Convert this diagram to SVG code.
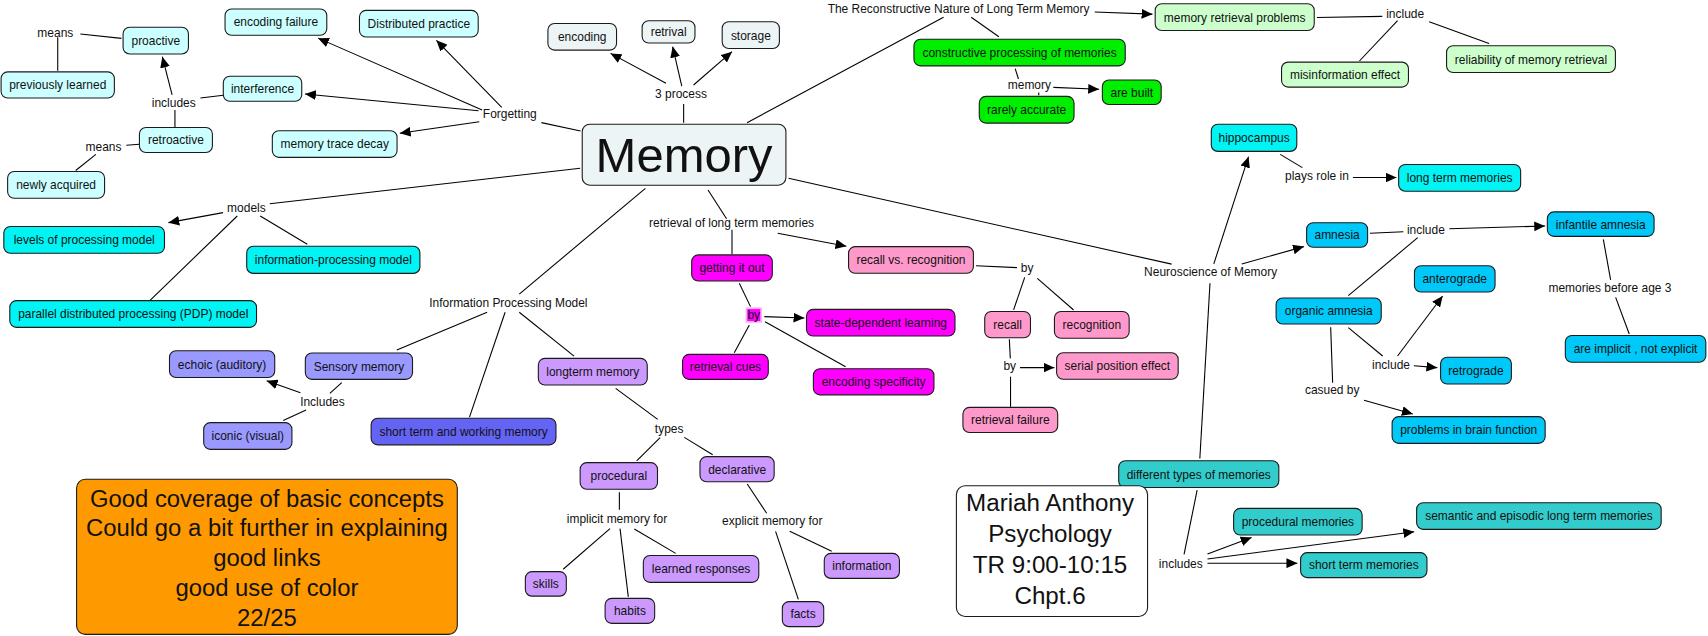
<svg xmlns="http://www.w3.org/2000/svg" width="1708" height="636" viewBox="0 0 1708 636">
<defs>
<marker id="ah" viewBox="0 0 10 9" refX="10" refY="4.5" markerWidth="10" markerHeight="9" orient="auto" markerUnits="userSpaceOnUse">
<path d="M0,0 L10,4.5 L0,9 z" fill="#000"/>
</marker>
<style>
text{font-family:"Liberation Sans",Arial,sans-serif;font-size:11px;fill:#111;text-anchor:middle}
.node rect{stroke:#1a1a1a;stroke-width:1}
.lc{fill:#ccffff}.mem{fill:#edf4f5}.g{fill:#00ee00}.lg{fill:#ccffcc}.cy{fill:#00f4f4}
.sky{fill:#00c8f8}.teal{fill:#33cccc}.peri{fill:#9999ff}.blue{fill:#6464f4}.lav{fill:#cc99ff}
.mag{fill:#ff00ff}.pink{fill:#ff99cc}.org{fill:#ff9900}.wh{fill:#ffffff}
#connectors line{stroke:#000;stroke-width:1}
#connectors line.a{marker-end:url(#ah)}
.big{font-size:21.9px}
.mar{font-size:22.2px}
</style>
</defs>
<rect width="1708" height="636" fill="#ffffff"/>
<g transform="scale(1.08929)">
<g id="connectors">
<line x1="73.8" y1="31.2" x2="111.5" y2="35.2"/>
<line x1="53" y1="34.3" x2="53" y2="65"/>
<line x1="184" y1="90" x2="205" y2="87.5"/>
<line class="a" x1="158" y1="87" x2="149" y2="52"/>
<line x1="160.6" y1="101" x2="160.6" y2="117"/>
<line x1="116" y1="133.4" x2="128" y2="132.4"/>
<line x1="88" y1="141.7" x2="69.5" y2="156.5"/>
<line class="a" x1="442.6" y1="101" x2="292" y2="35"/>
<line class="a" x1="460.6" y1="98.5" x2="400.6" y2="37"/>
<line class="a" x1="439.3" y1="101.6" x2="280" y2="86.3"/>
<line class="a" x1="440" y1="111.7" x2="367" y2="122.4"/>
<line x1="497" y1="112.6" x2="533" y2="120.3"/>
<line x1="627.6" y1="112.6" x2="627.6" y2="95.5"/>
<line class="a" x1="611.4" y1="76.5" x2="560.5" y2="49"/>
<line class="a" x1="625.9" y1="79" x2="617.5" y2="42.8"/>
<line class="a" x1="636.7" y1="78" x2="672" y2="47.4"/>
<line x1="685.8" y1="112.6" x2="866.2" y2="15.9"/>
<line x1="891.6" y1="15.9" x2="917" y2="33.7"/>
<line class="a" x1="1005" y1="11" x2="1058" y2="13"/>
<line x1="932" y1="63" x2="935" y2="72.5"/>
<line class="a" x1="967" y1="80.2" x2="1009" y2="82"/>
<line x1="953.6" y1="85" x2="953.6" y2="87.5"/>
<line x1="1209" y1="16" x2="1269" y2="15"/>
<line x1="1283" y1="19" x2="1248" y2="56"/>
<line x1="1312" y1="20" x2="1367" y2="40"/>
<line x1="1175.3" y1="141.7" x2="1195.6" y2="153.9"/>
<line class="a" x1="1242" y1="163" x2="1282" y2="163"/>
<line x1="723.9" y1="163.7" x2="1075.6" y2="242.5"/>
<line class="a" x1="1114.3" y1="242.3" x2="1146.2" y2="143.8"/>
<line class="a" x1="1140" y1="242.3" x2="1197" y2="226.4"/>
<line x1="1110.8" y1="260" x2="1101.5" y2="421"/>
<line x1="1257.7" y1="214.2" x2="1288.3" y2="212.7"/>
<line class="a" x1="1330.5" y1="210" x2="1418.5" y2="207.5"/>
<line x1="1301.5" y1="218.2" x2="1237.8" y2="271.4"/>
<line x1="1471.9" y1="219.7" x2="1478.6" y2="257"/>
<line x1="1483.2" y1="273" x2="1495.7" y2="306.6"/>
<line x1="1237.8" y1="300.8" x2="1269.3" y2="326.8"/>
<line class="a" x1="1283" y1="326.8" x2="1324.4" y2="271.7"/>
<line class="a" x1="1298" y1="335.7" x2="1319.5" y2="337.5"/>
<line x1="1221.6" y1="300.5" x2="1223.4" y2="351.3"/>
<line class="a" x1="1252.2" y1="367.5" x2="1297" y2="380"/>
<line x1="1099" y1="450" x2="1087" y2="509"/>
<line class="a" x1="1108.5" y1="508.5" x2="1149" y2="493.5"/>
<line class="a" x1="1108.5" y1="513.2" x2="1298.3" y2="488.1"/>
<line class="a" x1="1108.5" y1="517.1" x2="1191" y2="517.1"/>
<line x1="532.6" y1="154.5" x2="247.7" y2="187"/>
<line class="a" x1="204.8" y1="195.2" x2="154.6" y2="204.4"/>
<line x1="238.9" y1="198.3" x2="282.1" y2="224.3"/>
<line x1="217.8" y1="198.3" x2="138" y2="275.5"/>
<line x1="592.5" y1="172.9" x2="476.7" y2="270"/>
<line x1="447.2" y1="286.7" x2="364.3" y2="321.2"/>
<line x1="463.7" y1="286.7" x2="431" y2="383"/>
<line x1="476.7" y1="286.7" x2="527" y2="327"/>
<line x1="313.7" y1="351.3" x2="302.8" y2="361.1"/>
<line class="a" x1="275.8" y1="360.5" x2="244.8" y2="349.5"/>
<line x1="281" y1="376.4" x2="260" y2="386"/>
<line x1="565.2" y1="356.5" x2="603.8" y2="385"/>
<line x1="606" y1="401.8" x2="584.5" y2="423"/>
<line x1="628.2" y1="401.5" x2="654.3" y2="417.4"/>
<line x1="568.6" y1="452" x2="568.6" y2="468"/>
<line x1="560" y1="485.3" x2="517" y2="522.6"/>
<line x1="569.2" y1="485.3" x2="576.8" y2="548"/>
<line x1="582.3" y1="485.6" x2="620.3" y2="508"/>
<line x1="686" y1="444.3" x2="703.8" y2="471.2"/>
<line x1="712" y1="487.8" x2="732.9" y2="550.2"/>
<line x1="725" y1="487.8" x2="763.5" y2="506"/>
<line x1="650" y1="174.4" x2="667" y2="200.8"/>
<line class="a" x1="714" y1="214.2" x2="777" y2="226"/>
<line x1="672" y1="211" x2="672" y2="233.5"/>
<line x1="678.7" y1="260" x2="689" y2="281.5"/>
<line class="a" x1="701.7" y1="290.7" x2="738.5" y2="292"/>
<line x1="687.9" y1="298.4" x2="674.1" y2="323.8"/>
<line x1="702.3" y1="295.3" x2="776.3" y2="336.6"/>
<line x1="896" y1="244" x2="933.6" y2="245.7"/>
<line x1="940.7" y1="254.6" x2="930.5" y2="284.5"/>
<line x1="952.3" y1="255.5" x2="985.6" y2="284.6"/>
<line x1="926.6" y1="311.5" x2="927.5" y2="329"/>
<line class="a" x1="936.4" y1="337.5" x2="968" y2="337.5"/>
<line x1="927.7" y1="345.8" x2="927.7" y2="373.5"/>
</g>

<g id="labels">
<g id="l-means1"><text x="50.8" y="33.7">means</text></g>
<g id="l-includes1"><text x="159.5" y="98.3">includes</text></g>
<g id="l-means2"><text x="95" y="138.6">means</text></g>
<g id="l-forgetting"><text x="468" y="108.7">Forgetting</text></g>
<g id="l-3process"><text x="625.2" y="89.7">3 process</text></g>
<g id="l-reconstructive"><text x="880" y="11.7">The Reconstructive Nature of Long Term Memory</text></g>
<g id="l-memory"><text x="945" y="82">memory</text></g>
<g id="l-include1"><text x="1290" y="16.2">include</text></g>
<g id="l-plays"><text x="1209" y="165.6">plays role in</text></g>
<g id="l-neuro"><text x="1111.4" y="253.4">Neuroscience of Memory</text></g>
<g id="l-include2"><text x="1309" y="215">include</text></g>
<g id="l-before3"><text x="1478" y="267.8">memories before age 3</text></g>
<g id="l-include3"><text x="1277" y="339">include</text></g>
<g id="l-casued"><text x="1223" y="362">casued by</text></g>
<g id="l-includes2"><text x="1084" y="521.1">includes</text></g>
<g id="l-models"><text x="226.2" y="194.3">models</text></g>
<g id="l-ipm"><text x="466.7" y="281.5">Information Processing Model</text></g>
<g id="l-Includes"><text x="296" y="372.7">Includes</text></g>
<g id="l-types"><text x="614.3" y="397.2">types</text></g>
<g id="l-implicit"><text x="566.4" y="479.9">implicit memory for</text></g>
<g id="l-explicit"><text x="709" y="482.3">explicit memory for</text></g>
<g id="l-rltm"><text x="671.6" y="208.4">retrieval of long term memories</text></g>
<g id="l-by1"><rect x="685.3" y="283" width="13.4" height="12.5" fill="#ff00ff" stroke="#ffa8ff" stroke-width="1.5"/><text x="692" y="293">by</text></g>
<g id="l-by2"><text x="943" y="249.7">by</text></g>
<g id="l-by3"><text x="927" y="339.7">by</text></g>
</g>

<g id="n-proactive" class="node"><rect class="lc" x="113" y="25" width="60" height="24.5" rx="6"/><text x="143" y="41.3">proactive</text></g>
<g id="n-previously" class="node"><rect class="lc" x="1" y="66" width="104" height="24" rx="6"/><text x="53" y="82">previously learned</text></g>
<g id="n-encfail" class="node"><rect class="lc" x="206.6" y="8.3" width="93.4" height="24" rx="6"/><text x="253.3" y="24.3">encoding failure</text></g>
<g id="n-distributed" class="node"><rect class="lc" x="330" y="9.5" width="109" height="24.5" rx="6"/><text x="384.5" y="25.8">Distributed practice</text></g>
<g id="n-interference" class="node"><rect class="lc" x="205" y="70" width="72" height="23" rx="6"/><text x="241" y="85.5">interference</text></g>
<g id="n-retroactive" class="node"><rect class="lc" x="128" y="117" width="67" height="23" rx="6"/><text x="161.5" y="132.5">retroactive</text></g>
<g id="n-newly" class="node"><rect class="lc" x="7" y="157.5" width="89" height="24.5" rx="6"/><text x="51.5" y="173.8">newly acquired</text></g>
<g id="n-decay" class="node"><rect class="lc" x="250" y="120" width="114.5" height="24.5" rx="6"/><text x="307.3" y="136.3">memory trace decay</text></g>

<g id="n-memory" class="node"><rect class="mem" x="534.5" y="114" width="187" height="56" rx="7"/><text x="628" y="158" style="font-size:45px">Memory</text></g>
<g id="n-encoding" class="node"><rect class="mem" x="503" y="21.5" width="63" height="24.5" rx="6"/><text x="534.5" y="37.8">encoding</text></g>
<g id="n-retrival" class="node"><rect class="mem" x="589.5" y="19" width="48.5" height="20.5" rx="6"/><text x="613.8" y="33.3">retrival</text></g>
<g id="n-storage" class="node"><rect class="mem" x="663" y="20" width="52.5" height="24.5" rx="6"/><text x="689.3" y="36.3">storage</text></g>

<g id="n-constructive" class="node"><rect class="g" x="839" y="36" width="194" height="24.5" rx="6"/><text x="936" y="52.3">constructive processing of memories</text></g>
<g id="n-rarely" class="node"><rect class="g" x="899" y="88.5" width="87" height="24.5" rx="6"/><text x="942.5" y="104.8">rarely accurate</text></g>
<g id="n-built" class="node"><rect class="g" x="1012" y="73.5" width="54" height="22.5" rx="6"/><text x="1039" y="88.8">are built</text></g>
<g id="n-mrp" class="node"><rect class="lg" x="1060.5" y="3.5" width="146" height="24.5" rx="6"/><text x="1133.5" y="19.8">memory retrieval problems</text></g>
<g id="n-misinfo" class="node"><rect class="lg" x="1176.5" y="57" width="116.5" height="23" rx="6"/><text x="1234.8" y="72.5">misinformation effect</text></g>
<g id="n-reliability" class="node"><rect class="lg" x="1328" y="42" width="155" height="24.5" rx="6"/><text x="1405.5" y="58.3">reliability of memory retrieval</text></g>

<g id="n-hippocampus" class="node"><rect class="cy" x="1112" y="114" width="78.5" height="25" rx="6"/><text x="1151.3" y="130.5">hippocampus</text></g>
<g id="n-ltm" class="node"><rect class="cy" x="1284" y="151" width="112" height="24.5" rx="6"/><text x="1340" y="167.3">long term memories</text></g>
<g id="n-amnesia" class="node"><rect class="sky" x="1199.5" y="204.5" width="56" height="22.5" rx="6"/><text x="1227.5" y="219.8">amnesia</text></g>
<g id="n-infantile" class="node"><rect class="sky" x="1420.5" y="194.5" width="98" height="22.5" rx="6"/><text x="1469.5" y="209.8">infantile amnesia</text></g>
<g id="n-implicit" class="node"><rect class="sky" x="1437" y="308" width="129" height="24.5" rx="6"/><text x="1501.5" y="324.3">are implicit , not explicit</text></g>
<g id="n-organic" class="node"><rect class="sky" x="1171.5" y="273.5" width="96.5" height="24" rx="6"/><text x="1219.8" y="289.5">organic amnesia</text></g>
<g id="n-antero" class="node"><rect class="sky" x="1298.5" y="244" width="74" height="24" rx="6"/><text x="1335.5" y="260">anterograde</text></g>
<g id="n-retro" class="node"><rect class="sky" x="1322.5" y="328" width="65" height="24.5" rx="6"/><text x="1355" y="344.3">retrograde</text></g>
<g id="n-problems" class="node"><rect class="sky" x="1278" y="382.5" width="140.5" height="24.5" rx="6"/><text x="1348.3" y="398.8">problems in brain function</text></g>
<g id="n-difftypes" class="node"><rect class="teal" x="1027" y="423" width="147" height="24.5" rx="6"/><text x="1100.5" y="439.3">different types of memories</text></g>
<g id="n-procmem" class="node"><rect class="teal" x="1132.5" y="466.7" width="118" height="24.5" rx="6"/><text x="1191.5" y="483">procedural memories</text></g>
<g id="n-semantic" class="node"><rect class="teal" x="1300.5" y="461.5" width="224.5" height="24.5" rx="6"/><text x="1412.8" y="477.8">semantic and episodic long term memories</text></g>
<g id="n-stm" class="node"><rect class="teal" x="1194" y="507.3" width="116" height="23" rx="6"/><text x="1252" y="522.8">short term memories</text></g>

<g id="n-mariah" class="node"><rect class="wh" x="878" y="446" width="175.5" height="120" rx="8"/>
<text class="mar" x="964" y="469.5">Mariah Anthony</text>
<text class="mar" x="964" y="497.5">Psychology</text>
<text class="mar" x="964" y="526">TR 9:00-10:15</text>
<text class="mar" x="964" y="554.5">Chpt.6</text></g>

<g id="n-levels" class="node"><rect class="cy" x="3.5" y="208" width="147.5" height="24.5" rx="6"/><text x="77.3" y="224.3">levels of processing model</text></g>
<g id="n-infoproc" class="node"><rect class="cy" x="226.5" y="226" width="159" height="25" rx="6"/><text x="306" y="242.5">information-processing model</text></g>
<g id="n-pdp" class="node"><rect class="cy" x="9" y="276" width="226.5" height="24.5" rx="6"/><text x="122.3" y="292.3">parallel distributed processing (PDP) model</text></g>

<g id="n-sensory" class="node"><rect class="peri" x="280.3" y="324" width="98.4" height="24.3" rx="6"/><text x="329.5" y="340.2">Sensory memory</text></g>
<g id="n-echoic" class="node"><rect class="peri" x="155.6" y="322" width="96.6" height="24.5" rx="6"/><text x="203.9" y="338.3">echoic (auditory)</text></g>
<g id="n-iconic" class="node"><rect class="peri" x="187" y="388" width="81" height="24.5" rx="6"/><text x="227.5" y="404.3">iconic (visual)</text></g>
<g id="n-stwm" class="node"><rect class="blue" x="340.7" y="384" width="169.7" height="24.4" rx="6"/><text x="425.6" y="400.2">short term and working memory</text></g>
<g id="n-longterm" class="node"><rect class="lav" x="494.2" y="329" width="100" height="24.5" rx="6"/><text x="544.2" y="345.3">longterm memory</text></g>
<g id="n-procedural" class="node"><rect class="lav" x="532.6" y="424.7" width="71" height="24.5" rx="6"/><text x="568.1" y="441">procedural</text></g>
<g id="n-declarative" class="node"><rect class="lav" x="642.6" y="419.2" width="68.1" height="23" rx="6"/><text x="676.7" y="434.7">declarative</text></g>
<g id="n-skills" class="node"><rect class="lav" x="482.3" y="524.8" width="37.6" height="22.5" rx="6"/><text x="501.1" y="540.1">skills</text></g>
<g id="n-habits" class="node"><rect class="lav" x="555.5" y="549.3" width="45.5" height="23" rx="6"/><text x="578.3" y="564.8">habits</text></g>
<g id="n-learned" class="node"><rect class="lav" x="590.6" y="510" width="106" height="24.6" rx="6"/><text x="643.6" y="526.3">learned responses</text></g>
<g id="n-facts" class="node"><rect class="lav" x="718.2" y="552.3" width="38" height="23" rx="6"/><text x="737.2" y="567.8">facts</text></g>
<g id="n-information" class="node"><rect class="lav" x="756.7" y="508" width="69" height="23" rx="6"/><text x="791.2" y="523.5">information</text></g>

<g id="n-getting" class="node"><rect class="mag" x="635" y="234" width="74" height="24" rx="6"/><text x="672" y="250">getting it out</text></g>
<g id="n-statedep" class="node"><rect class="mag" x="740.4" y="284" width="136.3" height="24.5" rx="6"/><text x="808.6" y="300.3">state-dependent learning</text></g>
<g id="n-cues" class="node"><rect class="mag" x="626.6" y="325.3" width="78.7" height="23" rx="6"/><text x="666" y="340.8">retrieval cues</text></g>
<g id="n-encspec" class="node"><rect class="mag" x="746.7" y="338.5" width="110.7" height="24" rx="6"/><text x="802" y="354.5">encoding specificity</text></g>
<g id="n-rvr" class="node"><rect class="pink" x="779" y="226.4" width="114.6" height="24.5" rx="6"/><text x="836.3" y="242.7">recall vs. recognition</text></g>
<g id="n-recall" class="node"><rect class="pink" x="904" y="286" width="42" height="24" rx="6"/><text x="925" y="302">recall</text></g>
<g id="n-recognition" class="node"><rect class="pink" x="968" y="286" width="68.6" height="24.5" rx="6"/><text x="1002.3" y="302.3">recognition</text></g>
<g id="n-serial" class="node"><rect class="pink" x="970" y="323.8" width="111.6" height="24.4" rx="6"/><text x="1025.8" y="340">serial position effect</text></g>
<g id="n-retfail" class="node"><rect class="pink" x="884" y="374" width="87" height="23" rx="6"/><text x="927.5" y="389.5">retrieval failure</text></g>

<g id="n-comment" class="node"><rect class="org" x="70.3" y="440" width="349.5" height="142.4" rx="8"/>
<text class="big" x="245" y="465">Good coverage of basic concepts</text>
<text class="big" x="245" y="492.5">Could go a bit further in explaining</text>
<text class="big" x="245" y="520">good links</text>
<text class="big" x="245" y="547.5">good use of color</text>
<text class="big" x="245" y="575">22/25</text></g>
</g>
</svg>
